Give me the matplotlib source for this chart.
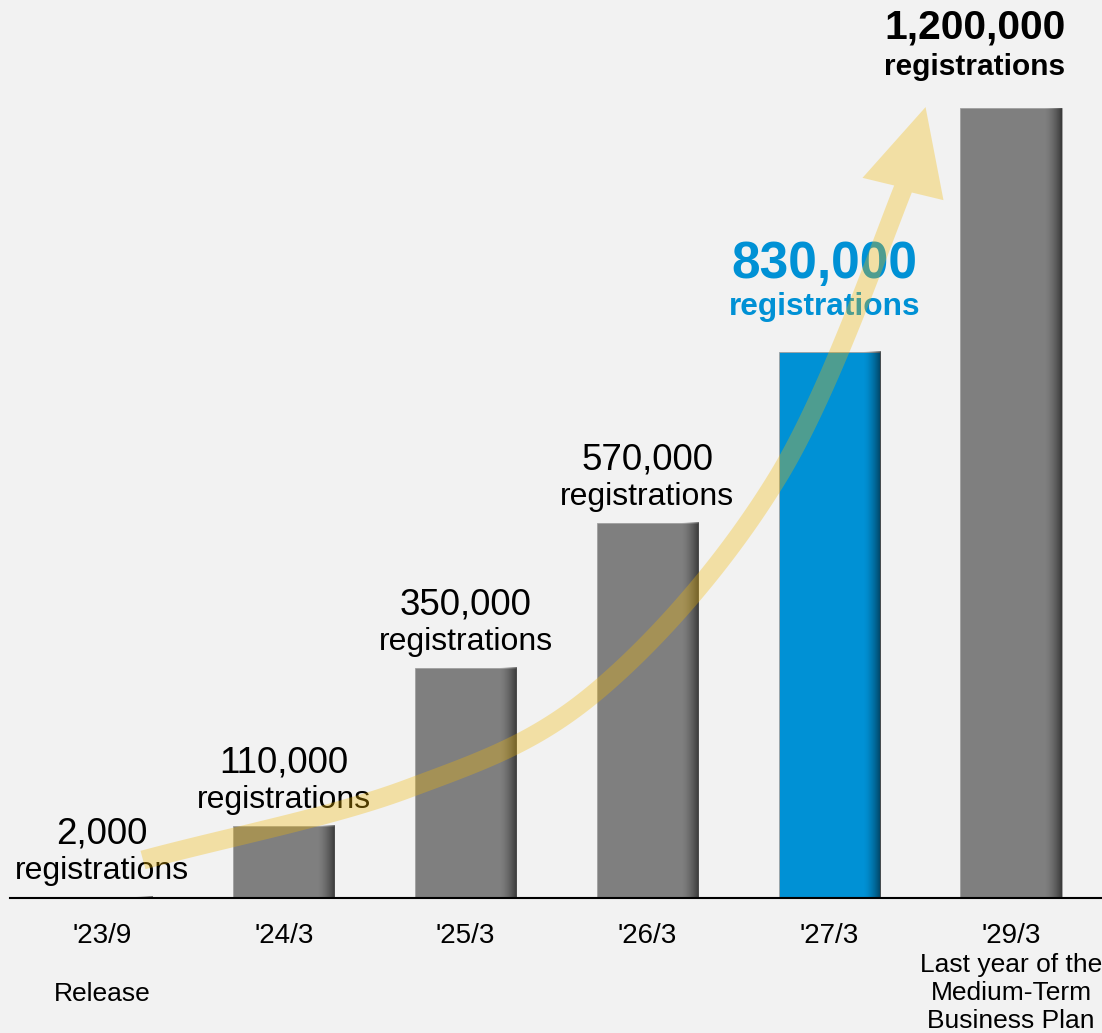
import numpy as np
import matplotlib
matplotlib.use('Agg')
import matplotlib.pyplot as plt
from matplotlib.patches import Polygon

periods = ["'23/9", "'24/3", "'25/3", "'26/3", "'27/3", "'29/3"]
notes = ["Release", "", "", "", "", "Last year of the\nMedium-Term\nBusiness Plan"]
registrations = [2000, 110000, 350000, 570000, 830000, 1200000]

BG = '#f2f2f2'
GRAY = '#7f7f7f'
BLUE = '#0091d5'
ARROW = '#f5b900'

plt.rcParams['font.family'] = ['Liberation Sans', 'DejaVu Sans']

fig = plt.figure(figsize=(11.02, 10.33), dpi=100, facecolor=BG)
ax = fig.add_axes([0, 0, 1, 1])
ax.set_facecolor(BG)
ax.axis('off')

# one bar step = 181.8 px, 1M registrations = 658 px
xlim = (-102 / 181.8, 1000 / 181.8)
ylim = (-135 / 658 * 1e6, 898 / 658 * 1e6)
ax.set_xlim(*xlim)
ax.set_ylim(*ylim)

x = np.arange(len(registrations))
w = 0.556
colors = [BLUE if i == 4 else GRAY for i in range(len(x))]
ax.bar(x, registrations, width=w, color=colors, edgecolor='#a0a0a0',
       linewidth=0.6, zorder=2)

# dark shading along the right side of each bar
grad = np.zeros((1, 64, 4))
grad[0, :, 3] = np.linspace(0, 1, 64) ** 1.6 * 0.55
for xi, v in zip(x, registrations):
    ax.imshow(grad, extent=[xi + w / 2 - w * 0.17, xi + w / 2, 0, v],
              aspect='auto', zorder=3, interpolation='bilinear')
ax.set_xlim(*xlim)
ax.set_ylim(*ylim)

# baseline
ax.plot([-92 / 181.8, xlim[1]], [0, 0], color='black', lw=1.5, zorder=4)

# value labels: (number size, number rise, label size, label rise, x shift, bold, colour)
styles = {4: (37, 74, 22.8, 37, -5, True, BLUE),
          5: (29.3, 70, 21.5, 33, -36, True, 'black')}
for i, (xi, v) in enumerate(zip(x, registrations)):
    ns, ny, ls, ly, dx, bold, c = styles.get(i, (26.5, 53, 23, 18, 0, False, 'black'))
    fw = 'bold' if bold else 'normal'
    ax.annotate(f'{v:,}', (xi, v), xytext=(dx, ny), textcoords='offset pixels',
                ha='center', va='baseline', fontsize=ns, fontweight=fw,
                color=c, zorder=5)
    ax.annotate('registrations', (xi, v), xytext=(dx, ly), textcoords='offset pixels',
                ha='center', va='baseline', fontsize=ls, fontweight=fw,
                color=c, zorder=5)

# period labels under the baseline (multi-line notes sit on their last line)
for xi, p, n in zip(x, periods, notes):
    ax.annotate(p, (xi, 0), xytext=(0, -45), textcoords='offset pixels',
                ha='center', va='baseline', fontsize=20, color='black')
    if n:
        ny = -103 if '\n' not in n else -130
        ax.annotate(n, (xi, 0), xytext=(0, ny), textcoords='offset pixels',
                    ha='center', va='baseline', fontsize=19, color='black',
                    linespacing=1.2)

# growth arrow: smooth shaft through guide points, triangular head at the end
guide = np.array([[0.2255, 57750], [1.6777, 165650], [2.7228, 314590],
                  [3.7184, 639820], [4.4059, 1077500]])
tip = np.array([4.53, 1202000])
Q = ax.transData.transform(guide)
T = ax.transData.transform(tip)
pts = np.vstack([2 * Q[0] - Q[1], Q, T])
s = np.linspace(0, 1, 40, endpoint=False)[:, None]
segs = []
for k in range(1, len(pts) - 2):
    p0, p1, p2, p3 = pts[k - 1], pts[k], pts[k + 1], pts[k + 2]
    segs.append(0.5 * (2 * p1 + (-p0 + p2) * s
                       + (2 * p0 - 5 * p1 + 4 * p2 - p3) * s ** 2
                       + (-p0 + 3 * p1 - 3 * p2 + p3) * s ** 3))
curve = np.vstack(segs + [Q[-1:]])
d = np.gradient(curve, axis=0)
d /= np.linalg.norm(d, axis=1)[:, None]
nrm = np.column_stack([-d[:, 1], d[:, 0]])
half = 9.5
left = curve + nrm * half
right = curve - nrm * half
end_dir = (T - Q[-1]) / np.linalg.norm(T - Q[-1])
end_n = np.array([-end_dir[1], end_dir[0]])
head_half = 42
poly = np.vstack([left, [Q[-1] + end_n * head_half], [T],
                  [Q[-1] - end_n * head_half], right[::-1]])
poly = ax.transData.inverted().transform(poly)
ax.add_patch(Polygon(poly, closed=True, facecolor=ARROW, edgecolor='none',
                     alpha=0.32, zorder=6))

fig.savefig('out.png', dpi=100, facecolor=BG)
